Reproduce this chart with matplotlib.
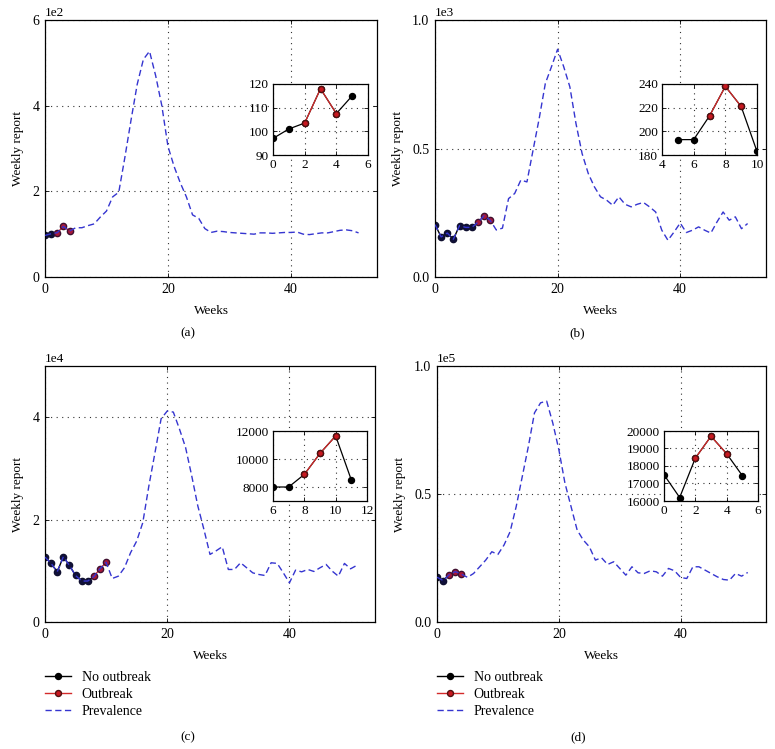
import numpy as np
import matplotlib
matplotlib.use('Agg')
import matplotlib.pyplot as plt
from matplotlib.lines import Line2D

plt.rcParams['font.family'] = ['Liberation Serif', 'DejaVu Serif']
plt.rcParams['font.size'] = 9.5
plt.rcParams['axes.formatter.use_mathtext'] = False

weeks = np.arange(52)

prev_a = [97, 101, 103.5, 118, 107.5, 115, 115, 120, 124, 140, 154, 187, 198, 280, 367, 450,
          508, 527, 470, 400, 305, 258, 220, 187, 145, 137, 113, 104, 107, 106, 104, 103,
          102, 101, 100, 103, 103, 102, 103, 104, 104, 105, 100, 99, 101, 103, 103, 106,
          109, 110, 108, 103]
prev_b = [204, 156, 171, 147, 200, 193, 193, 213, 238, 221, 183, 190, 305, 325, 377, 370,
          494, 617, 753, 818, 886, 818, 740, 597, 480, 403, 351, 312, 299, 279, 312, 283,
          273, 283, 290, 273, 253, 182, 143, 175, 210, 173, 182, 195, 182, 171, 214, 253,
          221, 234, 188, 208]
prev_c = [12680, 11440, 9800, 12745, 11045, 9085, 8000, 8000, 8900, 10400, 11650, 8500,
          8950, 10590, 13530, 15800, 19400, 26600, 33100, 39700, 41200, 41000, 37700, 34100,
          28600, 22700, 18100, 13200, 13900, 14700, 10260, 10260, 11570, 10590, 9600, 9280,
          9085, 11570, 11440, 9600, 7650, 10130, 9800, 10260, 9870, 10590, 11240, 9930,
          8950, 11440, 10390, 11045]
prev_d = [17500, 16200, 18450, 19700, 18700, 17450, 18950, 21570, 24180, 27450, 26400, 30070,
          35290, 45100, 56860, 68630, 81700, 85620, 86270, 77780, 67320, 54250, 45100, 35950,
          32030, 29410, 24180, 25100, 22480, 23530, 20920, 18300, 21570, 19220, 18950, 20000,
          19610, 17910, 20920, 20000, 17390, 16990, 21570, 21570, 20260, 18950, 17650, 16600,
          16340, 18950, 17910, 19350]

# outbreak weeks (first, last) and inset window (first, last week)
outbreak_a, inset_a = (2, 4), (0, 5)
outbreak_b, inset_b = (7, 9), (5, 10)
outbreak_c, inset_c = (8, 10), (6, 11)
outbreak_d, inset_d = (2, 4), (0, 5)

main_ylim = [(0, 600), (0, 1000), (0, 50000), (0, 100000)]
main_yticks = [[0, 200, 400, 600], [0, 500, 1000], [0, 20000, 40000], [0, 50000, 100000]]
inset_xlim = [(0, 6), (4, 10), (6, 12), (0, 6)]
inset_xticks = [[0, 2, 4, 6], [4, 6, 8, 10], [6, 8, 10, 12], [0, 2, 4, 6]]
inset_ylim = [(90, 120), (180, 240), (7000, 12000), (16000, 20000)]
inset_yticks = [[90, 100, 110, 120], [180, 200, 220, 240], [8000, 10000, 12000],
                [16000, 17000, 18000, 19000, 20000]]
panel_labels = ['(a)', '(b)', '(c)', '(d)']
legend_labels = ['No outbreak', 'Outbreak', 'Prevalence']

W, H = 775, 749
def fr(x0, y0, x1, y1):
    return [x0 / W, 1 - y1 / H, (x1 - x0) / W, (y1 - y0) / H]

main_pos = [fr(45, 20, 377, 277), fr(435, 20, 766, 277), fr(45, 366, 375, 622), fr(437, 366, 766, 622)]
inset_pos = [fr(273, 84, 368, 155), fr(662, 84, 757, 155), fr(273, 431, 367, 501), fr(664, 431, 758, 501)]
label_xy = [(188, 333), (577, 333), (188, 737), (578, 737)]

BLUE = '#3535d0'
RED = '#d42a2a'
RED_FACE = '#c81820'
grid_kw = dict(color='#333333', linestyle=(0, (1, 4)), linewidth=0.8)

fig = plt.figure(figsize=(W / 100, H / 100), dpi=100)

prevs = [prev_a, prev_b, prev_c, prev_d]
outbreaks = [outbreak_a, outbreak_b, outbreak_c, outbreak_d]
insets = [inset_a, inset_b, inset_c, inset_d]

def style_axes(ax):
    ax.tick_params(direction='in', length=3, width=0.6, top=True, right=True, pad=4)
    for s in ax.spines.values():
        s.set_linewidth(0.9)
    ax.grid(True, **grid_kw)
    ax.set_axisbelow(True)

for i in range(4):
    prev = np.array(prevs[i], dtype=float)
    o0, o1 = outbreaks[i]
    ax = fig.add_axes(main_pos[i])
    # observed weeks
    ax.plot(weeks[:o0 + 1], prev[:o0 + 1], '-', color='k', lw=1, zorder=2)
    ax.plot(weeks[:o0], prev[:o0], 'o', color='#10103a', ms=4.5, mec='#101030', zorder=2)
    ax.plot(weeks[o0:o1 + 1], prev[o0:o1 + 1], '-o', color=RED, lw=1, ms=4.5,
            mfc='#a8183a', mec='#401030', zorder=2)
    ax.plot(weeks, prev, '--', color=BLUE, lw=1, dashes=(4.5, 2.5), zorder=3)
    ax.set_xlim(0, 54)
    ax.set_xticks([0, 20, 40])
    ax.set_ylim(*main_ylim[i])
    ax.set_yticks(main_yticks[i])
    ax.ticklabel_format(axis='y', style='sci', scilimits=(0, 0))
    ax.tick_params(labelsize=10)
    ax.set_xlabel('Weeks', labelpad=7)
    ax.set_ylabel('Weekly report', labelpad=6)
    style_axes(ax)

    # inset
    s0, s1 = insets[i]
    ins = fig.add_axes(inset_pos[i])
    ins.patch.set_facecolor('white')
    ins.plot(weeks[s0:s1 + 1], prev[s0:s1 + 1], '-o', color='k', lw=0.9, ms=4.3, zorder=2)
    ins.plot(weeks[o0:o1 + 1], prev[o0:o1 + 1], '-o', color=RED, lw=0.9, ms=4.3,
             mfc=RED_FACE, mec='#501010', zorder=3)
    ins.set_xlim(*inset_xlim[i])
    ins.set_xticks(inset_xticks[i])
    ins.set_ylim(*inset_ylim[i])
    ins.set_yticks(inset_yticks[i])
    style_axes(ins)
    ins.tick_params(pad=3)

    fig.text(label_xy[i][0] / W, 1 - label_xy[i][1] / H, panel_labels[i], ha='center', va='center')

    if i >= 2:
        handles = [Line2D([], [], color='k', lw=1, marker='o', ms=4.3),
                   Line2D([], [], color=RED, lw=1, marker='o', ms=4.3, mfc=RED_FACE, mec='#501010'),
                   Line2D([], [], color=BLUE, lw=1, ls='--', dashes=(4.5, 2.5))]
        lx = main_pos[i][0]
        leg = ax.legend(handles, legend_labels, loc='upper left', frameon=False,
                        bbox_to_anchor=(lx, 1 - 671 / H), bbox_transform=fig.transFigure,
                        borderpad=0, borderaxespad=0, handlelength=1.9, handletextpad=0.75,
                        labelspacing=0.3, fontsize=10)

fig.savefig('out.png', dpi=100)
